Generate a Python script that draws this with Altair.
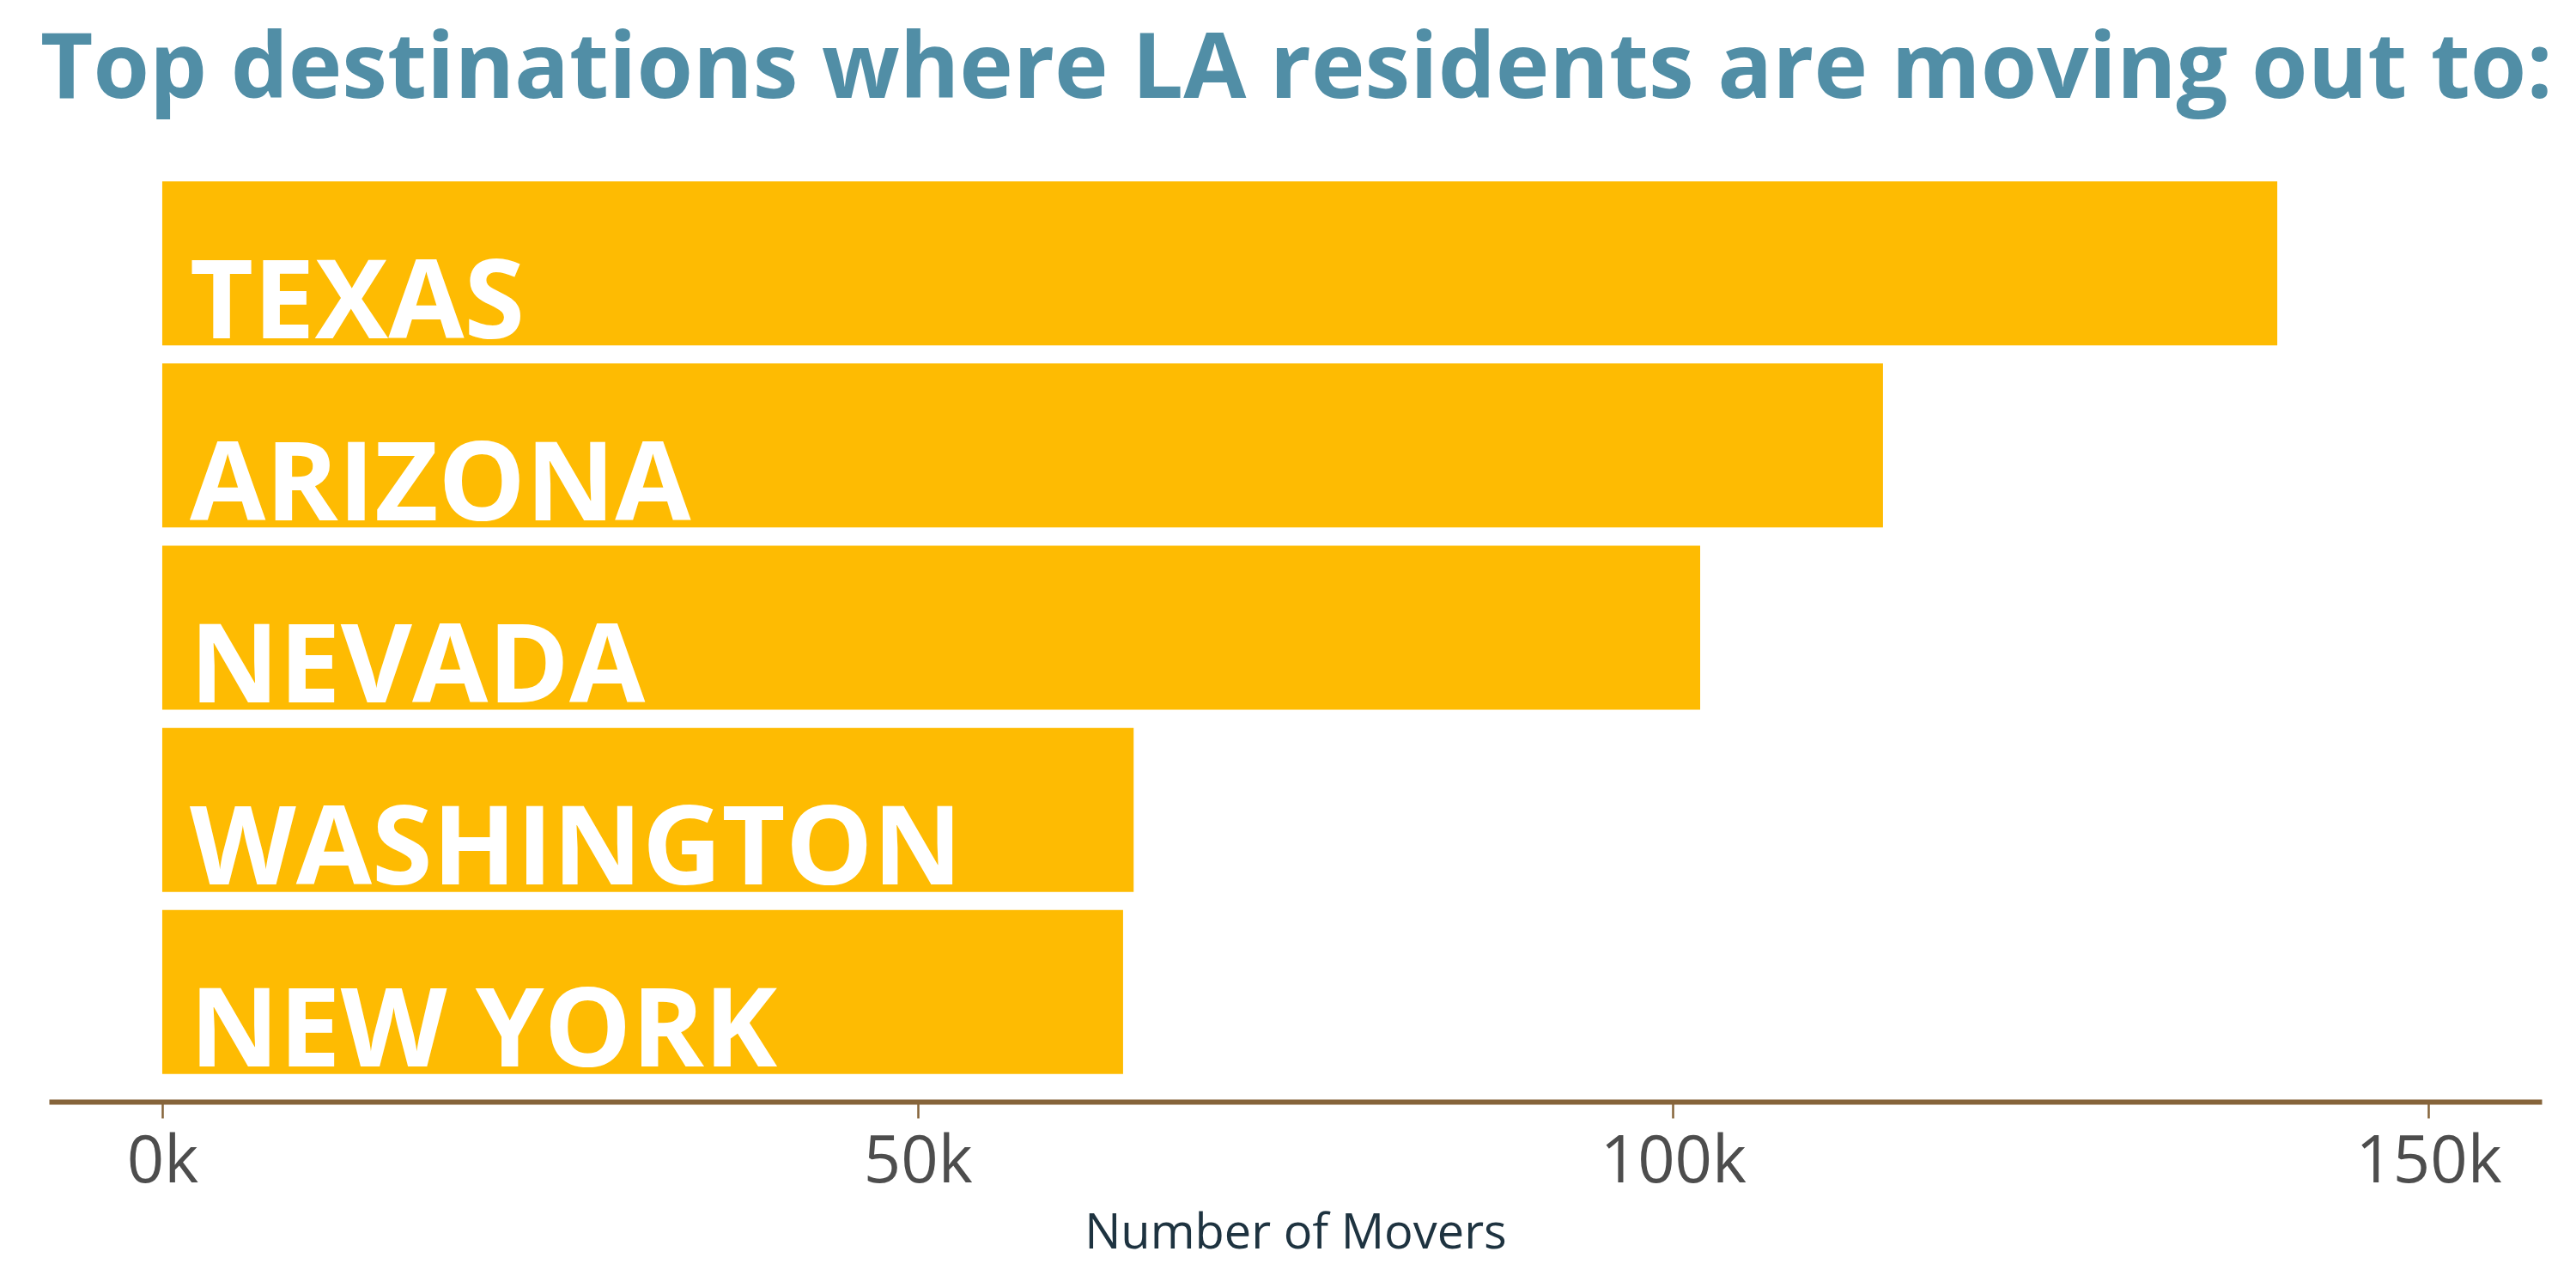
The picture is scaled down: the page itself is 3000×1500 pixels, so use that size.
import altair as alt
import pandas as pd

states = ["TEXAS", "ARIZONA", "NEVADA", "WASHINGTON", "NEW YORK"]
movers = [140000, 113900, 101800, 64300, 63600]
tick_values = [0, 50000, 100000, 150000]

df = pd.DataFrame({"state": states, "movers": movers})

FONT = "Open Sans"
BAR = "#FEBB02"
AXIS = "#86643A"

y_enc = alt.Y("state:N", sort=states, axis=None,
              scale=alt.Scale(paddingInner=0.1, paddingOuter=0.1))
x_scale = alt.Scale(domain=[-7500, 157500], nice=False, zero=False)

bars = alt.Chart(df).mark_bar(color=BAR).encode(
    x=alt.X("movers:Q", scale=x_scale, title="Number of Movers",
            axis=alt.Axis(values=tick_values,
                          labelExpr="datum.value / 1000 + 'k'",
                          grid=False, domainColor=AXIS, domainWidth=6,
                          tickColor=AXIS, tickWidth=2.5, tickSize=19,
                          offset=11, labelPadding=14,
                          labelFont=FONT, labelFontSize=76, labelColor="#4D4D4D",
                          titleFont=FONT, titleFontSize=56, titleColor="#1E3340",
                          titleFontWeight="normal", titlePadding=18)),
    x2=alt.datum(0),
    y=y_enc,
)

labels = alt.Chart(df).mark_text(
    align="left", baseline="alphabetic", dx=32, dy=87,
    font=FONT, fontSize=128, fontWeight="bold", color="white",
).encode(
    x=alt.datum(0, scale=x_scale),
    y=y_enc,
    text="state:N",
)

chart = alt.layer(bars, labels).properties(
    width=2903, height=1082,
    padding={"left": 57, "top": 190, "right": 40, "bottom": 228},
    autosize=alt.AutoSizeParams(type="none"),
    title=alt.TitleParams(
        "Top destinations where LA residents are moving out to:",
        anchor="start", frame="group", dx=-10, offset=54,
        font=FONT, fontSize=106, fontWeight="bold", color="#518EA6",
    ),
).configure(background="white", view=alt.ViewConfig(stroke=None))

chart.save("out.html", embed_options={"renderer": "svg", "actions": False})
